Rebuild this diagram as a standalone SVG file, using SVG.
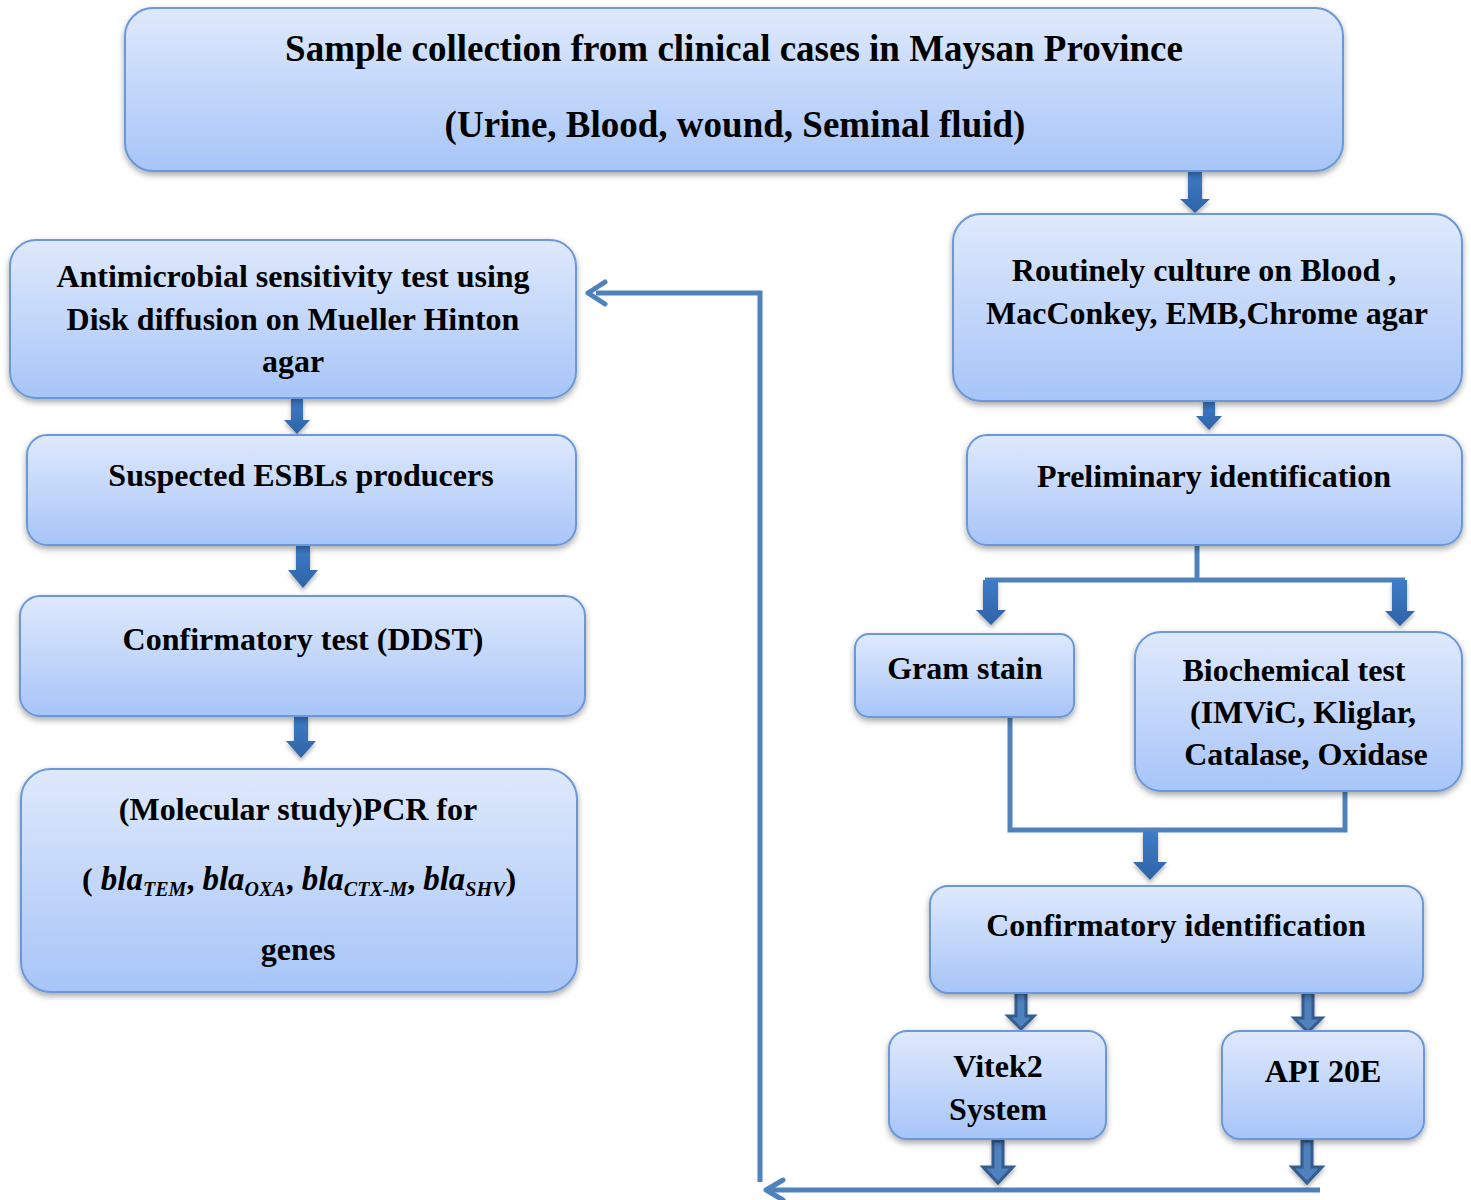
<svg xmlns="http://www.w3.org/2000/svg" width="1471" height="1200" viewBox="0 0 1471 1200">
<style>
.box{fill:url(#bg);stroke:#6b98d8;stroke-width:2;filter:url(#sh)}
.t{font-family:"Liberation Serif","Times New Roman",serif;font-weight:bold;font-size:32px;fill:#000;text-anchor:middle}
.big{font-size:37px}
.ln{fill:none;stroke:#4f81bd;stroke-width:5}
.ba{fill:url(#ag);filter:url(#sh2)}
.bo{fill:#4f81bd;stroke:#345c8f;stroke-width:3;filter:url(#sh2)}
.it{font-style:italic}
</style>
<defs>
<linearGradient id="bg" x1="0" y1="0" x2="0" y2="1">
<stop offset="0" stop-color="#dfe9fc"/>
<stop offset="1" stop-color="#a7c5f8"/>
</linearGradient>
<linearGradient id="ag" x1="0" y1="0" x2="0" y2="1">
<stop offset="0" stop-color="#3d7cc9"/>
<stop offset="1" stop-color="#2f63a6"/>
</linearGradient>
<filter id="sh" x="-10%" y="-10%" width="120%" height="130%">
<feDropShadow dx="0" dy="3" stdDeviation="3" flood-color="#000" flood-opacity="0.35"/>
</filter>
<filter id="sh2" x="-50%" y="-20%" width="200%" height="150%">
<feDropShadow dx="0" dy="3" stdDeviation="2" flood-color="#000" flood-opacity="0.3"/>
</filter>
</defs>

<g id="connectors">
<path class="ln" d="M760,1182 V293 H596"/>
<path d="M588,293 L605,282 M588,293 L605,304" stroke="#4f81bd" stroke-width="5" stroke-linecap="round" fill="none"/>
<path class="ln" d="M1320,1190 H770"/>
<path d="M766,1190 L783,1180 M766,1190 L783,1200" stroke="#4f81bd" stroke-width="5" stroke-linecap="round" fill="none"/>
<path class="ln" d="M1197,545 V580 M985,580 H1405"/>
<path class="ln" d="M1010,717 V830 H1345 V786"/>
<path class="ba" d="M1188,171 H1202 V199 H1210 L1195,213 L1180,199 H1188 Z"/>
<path class="ba" d="M1203,401 H1215 V416 H1222 L1209,430 L1196,416 H1203 Z"/>
<path class="ba" d="M291,398 H303 V420 H310 L297,434 L284,420 H291 Z"/>
<path class="ba" d="M296,545 H310 V570 H318 L303,588 L288,570 H296 Z"/>
<path class="ba" d="M294,716 H308 V741 H316 L301,758 L286,741 H294 Z"/>
<path class="ba" d="M983,580 H998 V610 H1006 L991,625 L976,610 H983 Z"/>
<path class="ba" d="M1392,580 H1407 V611 H1415 L1400,626 L1385,611 H1392 Z"/>
<path class="ba" d="M1143,832 H1158 V862 H1167 L1150,880 L1133,862 H1143 Z"/>
<path class="bo" d="M1016,993 H1026 V1016 H1034 L1021,1029 L1008,1016 H1016 Z"/>
<path class="bo" d="M1303,993 H1313 V1018 H1322 L1308,1032 L1294,1018 H1303 Z"/>
<path class="bo" d="M993,1141 H1003 V1167 H1013 L998,1183 L983,1167 H993 Z"/>
<path class="bo" d="M1302,1141 H1312 V1167 H1322 L1307,1183 L1292,1167 H1302 Z"/>
</g>

<g id="n-sample">
<rect class="box" x="125" y="8" width="1218" height="163" rx="28"/>
<text class="t big" x="734" y="61">Sample collection from clinical cases in Maysan Province</text>
<text class="t big" x="735" y="137">(Urine, Blood, wound, Seminal fluid)</text>
</g>
<g id="n-ast">
<rect class="box" x="10" y="240" width="566" height="158" rx="26"/>
<text class="t" x="293" y="287">Antimicrobial sensitivity test using</text>
<text class="t" x="293" y="330">Disk diffusion on Mueller Hinton</text>
<text class="t" x="293" y="372">agar</text>
</g>
<g id="n-esbl">
<rect class="box" x="27" y="435" width="549" height="110" rx="20"/>
<text class="t" x="301" y="486">Suspected ESBLs producers</text>
</g>
<g id="n-ddst">
<rect class="box" x="20" y="596" width="565" height="120" rx="20"/>
<text class="t" x="303" y="650">Confirmatory test (DDST)</text>
</g>
<g id="n-pcr">
<rect class="box" x="21" y="769" width="556" height="223" rx="30"/>
<text class="t" x="298" y="820">(Molecular study)PCR for</text>
<text class="t" x="299" y="890">(<tspan class="it" font-size="33"> bla</tspan><tspan class="it" font-size="20" dy="6">TEM</tspan><tspan dy="-6">, </tspan><tspan class="it" font-size="33">bla</tspan><tspan class="it" font-size="20" dy="6">OXA</tspan><tspan dy="-6">, </tspan><tspan class="it" font-size="33">bla</tspan><tspan class="it" font-size="20" dy="6">CTX-M</tspan><tspan dy="-6">, </tspan><tspan class="it" font-size="33">bla</tspan><tspan class="it" font-size="20" dy="6">SHV</tspan><tspan dy="-6">)</tspan></text>
<text class="t" x="298" y="960">genes</text>
</g>
<g id="n-culture">
<rect class="box" x="953" y="214" width="509" height="187" rx="28"/>
<text class="t" x="1204" y="281">Routinely culture on Blood ,</text>
<text class="t" x="1207" y="324">MacConkey, EMB,Chrome agar</text>
</g>
<g id="n-prelim">
<rect class="box" x="967" y="435" width="495" height="110" rx="20"/>
<text class="t" x="1214" y="487">Preliminary identification</text>
</g>
<g id="n-gram">
<rect class="box" x="855" y="634" width="219" height="83" rx="14"/>
<text class="t" x="965" y="679">Gram stain</text>
</g>
<g id="n-biochem">
<rect class="box" x="1135" y="632" width="327" height="159" rx="26"/>
<text class="t" x="1294" y="681">Biochemical test</text>
<text class="t" x="1303" y="723">(IMViC, Kliglar,</text>
<text class="t" x="1306" y="765">Catalase, Oxidase</text>
</g>
<g id="n-confid">
<rect class="box" x="930" y="886" width="493" height="107" rx="18"/>
<text class="t" x="1176" y="936">Confirmatory identification</text>
</g>
<g id="n-vitek">
<rect class="box" x="889" y="1031" width="217" height="108" rx="18"/>
<text class="t" x="998" y="1077">Vitek2</text>
<text class="t" x="998" y="1120">System</text>
</g>
<g id="n-api">
<rect class="box" x="1222" y="1031" width="202" height="108" rx="18"/>
<text class="t" x="1323" y="1082">API 20E</text>
</g>
</svg>
